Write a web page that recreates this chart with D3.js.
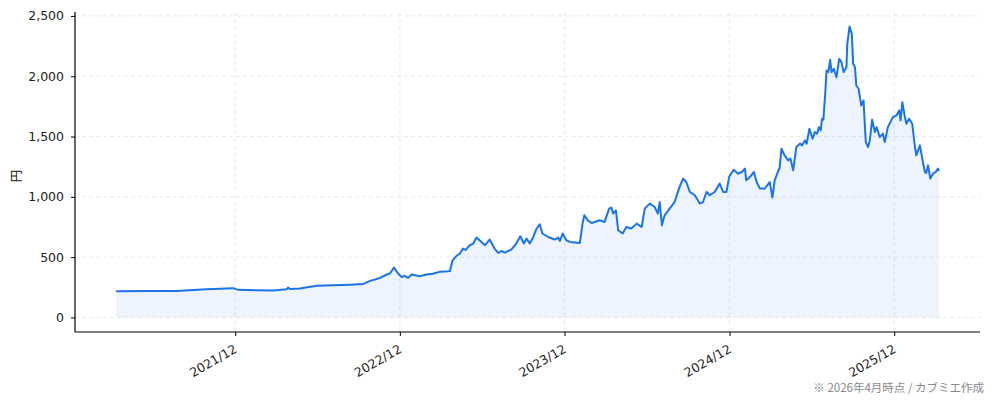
<!DOCTYPE html>
<html><head><meta charset="utf-8">
<script src="https://cdn.jsdelivr.net/npm/d3@7"></script>
<style>
html,body{margin:0;padding:0;background:#fff;}
svg{display:block;font-family:"DejaVu Sans",sans-serif;}
</style></head>
<body>
<svg id="chart" width="994" height="400"></svg>
<script>
const dates = ["2021-03-12","2021-05-26","2021-07-24","2021-09-28","2021-10-28","2021-11-26","2021-12-08","2022-01-14","2022-02-23","2022-03-25","2022-03-28","2022-04-01","2022-04-23","2022-05-31","2022-07-06","2022-08-12","2022-09-11","2022-09-26","2022-10-07","2022-10-18","2022-11-02","2022-11-09","2022-11-18","2022-11-27","2022-12-05","2022-12-12","2022-12-19","2022-12-27","2023-01-14","2023-01-29","2023-02-12","2023-02-27","2023-03-11","2023-03-22","2023-03-28","2023-04-04","2023-04-13","2023-04-20","2023-04-26","2023-05-05","2023-05-12","2023-05-20","2023-05-31","2023-06-08","2023-06-18","2023-06-29","2023-07-07","2023-07-14","2023-07-22","2023-08-05","2023-08-16","2023-08-25","2023-09-02","2023-09-08","2023-09-15","2023-09-22","2023-09-29","2023-10-07","2023-10-13","2023-10-26","2023-11-09","2023-11-17","2023-11-21","2023-11-27","2023-12-05","2023-12-13","2023-12-24","2024-01-04","2024-01-10","2024-01-14","2024-01-23","2024-01-31","2024-02-06","2024-02-17","2024-02-28","2024-03-09","2024-03-14","2024-03-18","2024-03-24","2024-03-29","2024-04-08","2024-04-16","2024-04-27","2024-05-09","2024-05-20","2024-05-27","2024-06-07","2024-06-18","2024-06-25","2024-06-29","2024-07-04","2024-07-10","2024-07-21","2024-08-01","2024-08-12","2024-08-20","2024-08-27","2024-09-04","2024-09-15","2024-09-26","2024-10-03","2024-10-11","2024-10-18","2024-10-29","2024-11-09","2024-11-17","2024-11-24","2024-11-30","2024-12-10","2024-12-20","2024-12-28","2025-01-04","2025-01-07","2025-01-15","2025-01-24","2025-01-30","2025-02-06","2025-02-17","2025-02-28","2025-03-06","2025-03-11","2025-03-18","2025-03-22","2025-03-26","2025-04-02","2025-04-10","2025-04-15","2025-04-21","2025-04-28","2025-05-06","2025-05-11","2025-05-17","2025-05-21","2025-05-27","2025-06-03","2025-06-08","2025-06-13","2025-06-17","2025-06-21","2025-06-24","2025-06-27","2025-07-01","2025-07-04","2025-07-08","2025-07-12","2025-07-15","2025-07-20","2025-07-26","2025-08-01","2025-08-06","2025-08-11","2025-08-17","2025-08-19","2025-08-24","2025-08-29","2025-09-01","2025-09-05","2025-09-08","2025-09-13","2025-09-19","2025-09-24","2025-09-29","2025-10-04","2025-10-08","2025-10-13","2025-10-19","2025-10-23","2025-10-30","2025-11-06","2025-11-10","2025-11-17","2025-11-28","2025-12-06","2025-12-12","2025-12-15","2025-12-19","2025-12-24","2025-12-28","2026-01-03","2026-01-10","2026-01-16","2026-01-19","2026-01-27","2026-02-02","2026-02-07","2026-02-10","2026-02-14","2026-02-19","2026-02-25","2026-03-03","2026-03-08","2026-03-10"];
const prices = [218,219,220,234,238,243,229,226,224,234,248,236,240,262,267,272,278,303,315,328,356,364,414,364,336,345,328,356,342,356,362,378,380,386,474,505,530,571,560,599,610,662,626,599,646,571,535,551,538,563,613,673,613,654,613,660,729,773,696,667,646,662,634,696,640,626,622,618,778,847,800,783,792,806,792,902,911,861,888,723,696,750,737,778,750,902,944,916,861,957,764,847,902,957,1081,1151,1123,1040,1013,944,957,1040,1013,1040,1110,1040,1040,1164,1225,1192,1206,1234,1137,1164,1206,1123,1070,1068,1123,994,1137,1206,1242,1399,1344,1302,1317,1220,1413,1441,1427,1468,1441,1565,1482,1537,1524,1578,1551,1648,1640,1855,2048,2034,2136,2034,2062,1992,2144,2117,2034,2075,2269,2412,2352,2103,2075,1923,1896,1758,1799,1454,1413,1468,1640,1537,1578,1495,1524,1454,1578,1661,1675,1717,1634,1785,1675,1606,1648,1606,1413,1344,1427,1302,1206,1197,1261,1151,1192,1206,1234,1214];
const xTickDates = ["2021-12-01","2022-12-01","2023-12-01","2024-12-01","2025-12-01"];
const xTickLabels = ["2021/12","2022/12","2023/12","2024/12","2025/12"];
const yTicks = [0,500,1000,1500,2000,2500];
const yLabel = "円";
const footnote = "※ 2026年4月時点 / カブミエ作成";

const parse = d3.timeParse("%Y-%m-%d");
const data = dates.map((d,i)=>({date:parse(d), v:prices[i]}));

const svg = d3.select("#chart");
const L=75, R=980, T=12, B=332;

const ext = d3.extent(data, d=>d.date);
const span = ext[1]-ext[0];
const x = d3.scaleTime().domain([new Date(+ext[0]-span*0.05), new Date(+ext[1]+span*0.05)]).range([L,R]);
const vmax = d3.max(prices);
const y = d3.scaleLinear().domain([-vmax*0.05, vmax*1.05]).range([B,T]);

// grid
const g = svg.append("g");
g.selectAll("line.gy").data(yTicks).join("line")
  .attr("x1",L).attr("x2",R).attr("y1",d=>y(d)).attr("y2",d=>y(d))
  .attr("stroke","#e3e3e3").attr("stroke-width",0.8).attr("stroke-dasharray","4,3");
g.selectAll("line.gx").data(xTickDates).join("line")
  .attr("x1",d=>x(parse(d))).attr("x2",d=>x(parse(d))).attr("y1",T).attr("y2",B)
  .attr("stroke","#e3e3e3").attr("stroke-width",0.8).attr("stroke-dasharray","4,3");

// area
const area = d3.area().x(d=>x(d.date)).y0(y(0)).y1(d=>y(d.v));
svg.append("path").datum(data).attr("d",area).attr("fill","#1a73e8").attr("fill-opacity",0.08);
const line = d3.line().x(d=>x(d.date)).y(d=>y(d.v));
svg.append("path").datum(data).attr("d",line).attr("fill","none")
  .attr("stroke","#1a73e8").attr("stroke-width",2).attr("stroke-linejoin","round");

// axes
const yAxis = d3.axisLeft(y).tickValues(yTicks).tickFormat(d3.format(",")).tickSize(4).tickPadding(7);
const ya = svg.append("g").attr("transform",`translate(${L},0)`).call(yAxis);
ya.select(".domain").attr("d",`M0,${T}V${B}`).attr("stroke","#000").attr("stroke-width",1.2);
ya.selectAll("text").attr("font-size",12.5).attr("fill","#222").style("font-family",'"DejaVu Sans",sans-serif');

const xAxis = d3.axisBottom(x).tickValues(xTickDates.map(parse))
  .tickFormat((d,i)=>xTickLabels[i]).tickSize(4).tickPadding(4);
const xa = svg.append("g").attr("transform",`translate(0,${B})`).call(xAxis);
xa.select(".domain").attr("d",`M${L},0H${R}`).attr("stroke","#000").attr("stroke-width",1.2);
xa.selectAll("text").attr("font-size",12.5).attr("fill","#222")
  .style("font-family",'"DejaVu Sans",sans-serif')
  .attr("text-anchor","end").attr("dy",null).attr("y",null)
  .attr("transform","translate(2.2,19.5) rotate(-30)");

svg.append("text").attr("transform",`translate(21,${(T+B)/2+4}) rotate(-90)`)
  .attr("text-anchor","middle").attr("font-size",12.5).attr("fill","#222")
  .style("font-family",'"Noto Sans CJK JP",sans-serif').text(yLabel);

svg.append("text").attr("x",984).attr("y",392).attr("text-anchor","end")
  .attr("font-size",11.5).attr("fill","#888")
  .style("font-family",'"Noto Sans CJK JP",sans-serif').text(footnote);
</script>
</body></html>
